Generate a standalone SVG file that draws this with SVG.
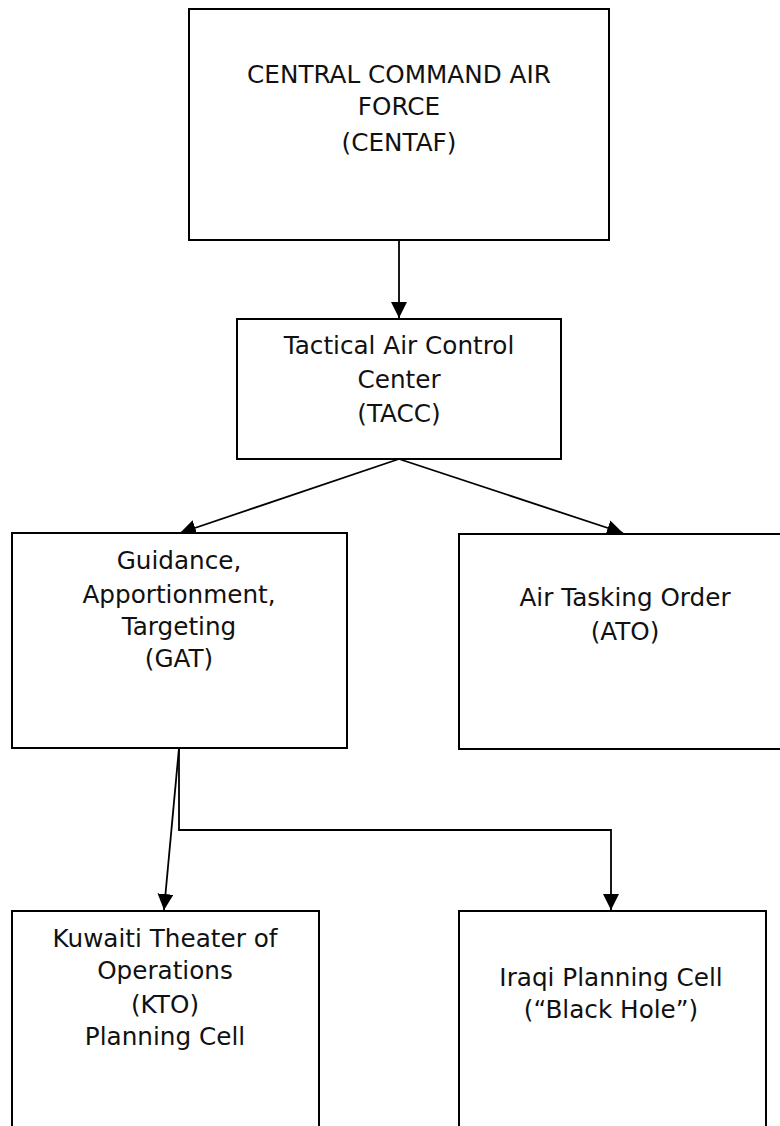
<svg xmlns="http://www.w3.org/2000/svg" width="780" height="1126" viewBox="0 0 780 1126">
<style>
.box{fill:#fff;stroke:#000;stroke-width:2}
.lbl{font-family:"DejaVu Sans","Liberation Sans",sans-serif;font-size:24.7px;fill:#111;text-anchor:middle}
.conn{fill:none;stroke:#000;stroke-width:1.8}
</style>
<defs>
<marker id="arr" markerUnits="userSpaceOnUse" markerWidth="18" markerHeight="16" refX="16" refY="8" orient="auto">
<path d="M0,0 L16,8 L0,16 z" fill="#000"/>
</marker>
</defs>
<rect width="780" height="1126" fill="#fff"/>
<g id="connectors">
<line class="conn" x1="399" y1="240" x2="399" y2="318" marker-end="url(#arr)"/>
<line class="conn" x1="399" y1="459" x2="180" y2="533" marker-end="url(#arr)"/>
<line class="conn" x1="399" y1="459" x2="623" y2="533" marker-end="url(#arr)"/>
<line class="conn" x1="179" y1="748" x2="164" y2="910" marker-end="url(#arr)"/>
<polyline class="conn" points="179,748 179,830 611,830 611,910" marker-end="url(#arr)"/>
</g>
<g id="centaf">
<rect class="box" x="189" y="9" width="420" height="231"/>
<text class="lbl" x="399" y="83">CENTRAL COMMAND AIR</text>
<text class="lbl" x="399" y="115">FORCE</text>
<text class="lbl" x="399" y="151">(CENTAF)</text>
</g>
<g id="tacc">
<rect class="box" x="237" y="319" width="324" height="140"/>
<text class="lbl" x="399" y="354">Tactical Air Control</text>
<text class="lbl" x="399" y="388">Center</text>
<text class="lbl" x="399" y="422">(TACC)</text>
</g>
<g id="gat">
<rect class="box" x="12" y="533" width="335" height="215"/>
<text class="lbl" x="179" y="569">Guidance,</text>
<text class="lbl" x="179" y="603">Apportionment,</text>
<text class="lbl" x="179" y="635">Targeting</text>
<text class="lbl" x="179" y="667">(GAT)</text>
</g>
<g id="ato">
<rect class="box" x="459" y="534" width="340" height="215"/>
<text class="lbl" x="625" y="606">Air Tasking Order</text>
<text class="lbl" x="625" y="640">(ATO)</text>
</g>
<g id="kto">
<rect class="box" x="12" y="911" width="307" height="240"/>
<text class="lbl" x="165" y="947">Kuwaiti Theater of</text>
<text class="lbl" x="165" y="979">Operations</text>
<text class="lbl" x="165" y="1013">(KTO)</text>
<text class="lbl" x="165" y="1045">Planning Cell</text>
</g>
<g id="iraqi">
<rect class="box" x="459" y="911" width="307" height="240"/>
<text class="lbl" x="611" y="986">Iraqi Planning Cell</text>
<text class="lbl" x="611" y="1018">(“Black Hole”)</text>
</g>
</svg>
